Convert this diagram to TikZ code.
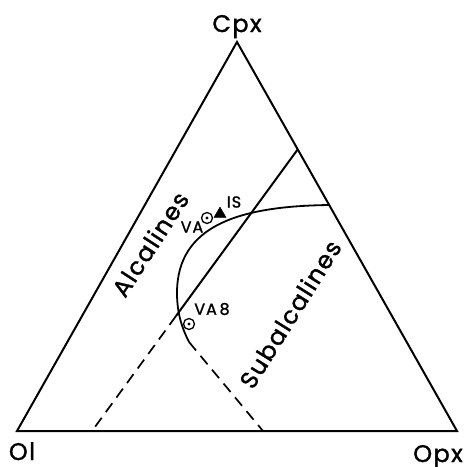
\documentclass[tikz,border=0pt]{standalone}
\usepackage{fontspec}
\setmainfont{Poppins}
\newfontfamily\labfont[LetterSpace=6, FakeBold=1.4]{Poppins}
\usetikzlibrary{shapes.geometric}
\begin{document}
\begin{tikzpicture}[x=1pt,y=-1pt,
  edge/.style={line width=2pt, line join=miter},
  dashline/.style={line width=1.7pt, dash pattern=on 11pt off 7pt},
  vlabel/.style={font=\labfont\fontsize{24}{24}\selectfont, inner sep=0pt},
  field/.style={font=\labfont\fontsize{24}{24}\selectfont, inner sep=0pt, rotate=58},
  small/.style={font=\labfont\fontsize{16}{16}\selectfont, inner sep=0pt},
  ringmark/.style={circle, draw, line width=1.3pt, minimum size=11pt, inner sep=0pt,
    path picture={\fill (path picture bounding box.center) circle (1.6pt);}},
  trimark/.style={regular polygon, regular polygon sides=3, fill, draw, minimum size=14pt, inner sep=0pt}
]
\useasboundingbox (0,0) rectangle (466,467);
\coordinate (cpx) at (237,42);
\coordinate (ol) at (17,431);
\coordinate (opx) at (457,431);
\draw[edge] (cpx) -- (ol) -- (opx) -- cycle;
\node[vlabel, anchor=base] (lcpx) at (237,32) {Cpx};
\node[vlabel, anchor=base] (lol) at (22,460) {Ol};
\node[vlabel, anchor=base] (lopx) at (438,462) {Opx};
% dividing line
\coordinate (dtop) at (298,149);
\coordinate (dmid) at (176,316);
\coordinate (dbot) at (92,431);
\draw[edge] (dtop) -- (dmid);
\draw[dashline] (dmid) -- (dbot);
% curve
\coordinate (c1) at (330,205);
\coordinate (c2) at (177,293);
\coordinate (c3) at (189,342);
\coordinate (c4) at (263,431);
\draw[edge, line width=1.8pt] (c1) .. controls (240,206) and (177,225) .. (c2)
  .. controls (177,315) and (183,330) .. (c3);
\draw[dashline] (c3) -- (c4);
% markers
\node[ringmark] (va) at (207,218) {};
\node[trimark] (is) at (220,214) {};
\node[ringmark] (va8) at (189,324) {};
\node[small] (lva) at (192,227) {VA};
\node[small] (lis) at (234,202) {IS};
\node[small] (lva8) at (212,309) {VA\,8};
% fields
\node[field, rotate=-1] (alc) at (150,244) {Alcalines};
\node[field] (sub) at (290,314) {Subalcalines};
\end{tikzpicture}
\end{document}
